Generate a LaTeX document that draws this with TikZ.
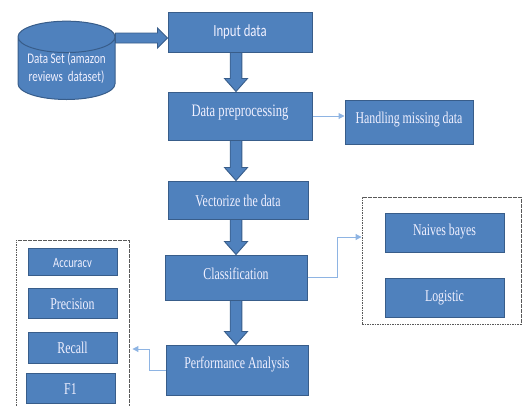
\documentclass[tikz,border=0pt]{standalone}
\usepackage{fontspec}
\setmainfont[FakeStretch=0.72]{Liberation Serif}
\newfontfamily\calsans[FakeStretch=0.75]{Carlito}
\usetikzlibrary{shapes.geometric,calc,arrows.meta}

\definecolor{boxblue}{HTML}{4F81BD}
\definecolor{boxedge}{HTML}{385D8A}
\definecolor{linkblue}{HTML}{8EB4E3}

\tikzset{
  procbox/.style={draw=boxedge, line width=1pt, fill=boxblue, text=white!94!blue,
    inner sep=0pt, text height=12pt, text depth=0pt,
    font=\fontsize{16.5}{18}\selectfont},
  groupbox/.style={draw=black!65, line width=0.9pt, dash pattern=on 1.6pt off 0.9pt},
  fatarrow/.style={draw=boxedge, line width=0.9pt, fill=boxblue},
  thinarrow/.style={draw=linkblue, line width=1pt, -{Triangle[length=6pt,width=6pt]}},
}

% block arrow straight down, along the x of the spine coordinate
\newcommand{\FatDown}[2]{%
  \path[fatarrow] let \p1=(#1.south), \p2=(#2.north), \p3=(spine) in
    (\x3-5.8pt,\y1) -- (\x3+5.8pt,\y1) -- (\x3+5.8pt,\y2+13pt) -- (\x3+11.5pt,\y2+13pt)
    -- (\x3,\y2) -- (\x3-11.5pt,\y2+13pt) -- (\x3-5.8pt,\y2+13pt) -- cycle;}

\begin{document}
\begin{tikzpicture}[x=1pt,y=-1pt]
  \clip (0,0) rectangle (522,405);
  \coordinate (spine) at (236,0);

  % dashed groups
  \node[groupbox, minimum width=113pt, minimum height=180pt] (lgrp) at (72.5,330) {};
  \node[groupbox, minimum width=159pt, minimum height=127pt] (rgrp) at (441.5,260.5) {};

  % data source
  \node[shape=cylinder, shape border rotate=90, aspect=0.4, draw=boxedge, line width=1pt,
    fill=boxblue, text=white!94!blue, minimum width=97pt, minimum height=76pt,
    inner sep=0pt, align=center, anchor=south, font=\calsans\fontsize{14.7}{18}\selectfont]
    (dataset) at (66.5,100) {Data Set (amazon\\reviews\ \ dataset)};

  % main flow
  \node[procbox, minimum width=144pt, minimum height=40pt, text depth=4pt,
    font=\calsans\fontsize{17}{18}\selectfont] (input) at (240,32) {Input data};
  \node[procbox, minimum width=144pt, minimum height=48pt, text depth=12pt,
    font=\fontsize{17.5}{18}\selectfont] (prep) at (240,116) {Data preprocessing};
  \node[procbox, minimum width=140pt, minimum height=38pt] (vect) at (238,200) {Vectorize the data};
  \node[procbox, minimum width=142pt, minimum height=45pt, text depth=9pt] (class) at (236,277.5) {Classification};
  \node[procbox, minimum width=142pt, minimum height=50pt, text depth=16pt] (perf) at (237,370) {Performance Analysis};

  % side boxes
  \node[procbox, minimum width=128pt, minimum height=44pt, text depth=10pt] (handle) at (409,122) {Handling missing data};
  \node[procbox, minimum width=119pt, minimum height=39pt, text depth=7pt] (naive) at (444.5,232.5) {Naives bayes};
  \node[procbox, minimum width=119pt, minimum height=39pt, text depth=5pt] (logi) at (444.5,297.5) {Logistic};

  % metrics
  \node[procbox, minimum width=89pt, minimum height=27pt,
    font=\calsans\fontsize{14.2}{18}\selectfont] (acc) at (72.5,261.5) {Accuracv};
  \node[procbox, minimum width=89pt, minimum height=30pt] (prec) at (72.5,303) {Precision};
  \node[procbox, minimum width=89pt, minimum height=31pt] (recall) at (72.5,347.5) {Recall};
  \node[procbox, minimum width=89pt, minimum height=30pt] (fone) at (70.5,388) {F1};

  % block arrows
  \path[fatarrow] let \p1=(dataset.east), \p2=(input.west) in
    (\x1,\y2-1pt) -- (\x2-10pt,\y2-1pt) -- (\x2-10pt,\y2+4pt) -- (\x2,\y2-6pt)
    -- (\x2-10pt,\y2-16pt) -- (\x2-10pt,\y2-11pt) -- (\x1,\y2-11pt) -- cycle;
  \FatDown{input}{prep}
  \FatDown{prep}{vect}
  \FatDown{vect}{class}
  \FatDown{class}{perf}

  % thin links
  \draw[thinarrow] (prep.east) -- (prep.east -| handle.west);
  \draw[thinarrow] (class.east) -- ++(30,0) |- ([yshift=23.5pt]rgrp.west);
  \draw[thinarrow, shorten >=3pt] (perf.west) -- ++(-16,0) |- ([yshift=-19pt]lgrp.east);
\end{tikzpicture}
\end{document}
